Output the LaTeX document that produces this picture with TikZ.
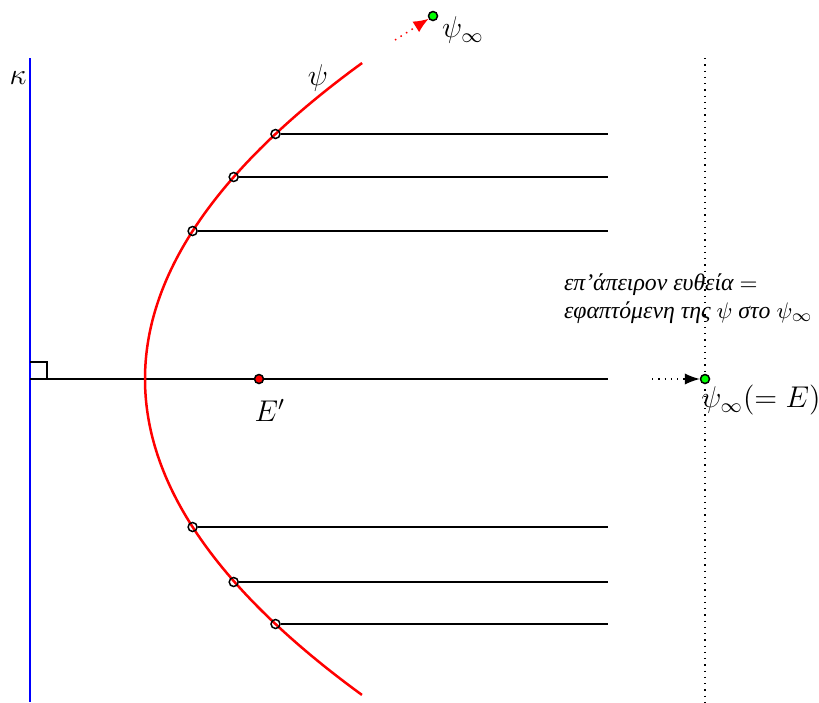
\documentclass[tikz,border=0pt]{standalone}
\usepackage{amssymb,amsmath}
\usepackage{fontspec}
\newfontfamily\grkit{Liberation Serif}
\usetikzlibrary{positioning}
\usetikzlibrary{arrows.meta}

\tikzset{
  pt/.style={circle, draw=black, line width=0.6pt, inner sep=0pt, minimum size=3.6pt},
  curve/.style={red, line width=1pt},
  ray/.style={line width=0.45pt},
  lbl/.style={inner sep=1pt},
}

\begin{document}
\begin{tikzpicture}[x=0.4pt,y=-0.4pt]
  \useasboundingbox (0,0) rectangle (819,702);
  \newcommand{\AxisY}{379}
  \newcommand{\RayEnd}{608}
  \coordinate (KT) at (30,58);
  \coordinate (KB) at (30,702);
  \coordinate (DT) at (705,58);
  \coordinate (DB) at (705,702);
  \coordinate (O) at (30,\AxisY);
  \coordinate (AE) at (\RayEnd,\AxisY);
  \draw[blue, line width=0.6pt] (KT) -- (KB);% directrix
  \draw[dotted, line width=0.5pt] (DT) -- (DB);% line at infinity
  \node[lbl] (kappa) at (18,78) {\large $\kappa$};
  % right angle
  \draw[line width=0.5pt] (30,362) -- (47,362) -- (47,\AxisY);
  \draw[ray] (O) -- (AE);% axis
  % the parabola, focus E', vertex at x=145
  \draw[curve] plot[domain=-3.16:3.16, samples=90, smooth]
    ({145+\x*\x*100/4.6}, {\AxisY+100*\x});
  \node[lbl] (psi) at (318,78) {\large $\psi$};
  % rays parallel to the axis
  \foreach \yy/\xx [count=\i] in {134/275.5, 177/233.7, 231/192.6, 527/192.6, 582/233.7, 624/275.5}{
    \coordinate (L\i) at (\RayEnd,\yy);
    \node[pt] (P\i) at (\xx,\yy) {};
    \draw[ray] (P\i) -- (L\i);
  }
  \node[pt, fill=red] (Ep) at (259,\AxisY) {};
  \node[lbl] (Eplbl) at (270,410) {\large $E'$};
  % point at infinity, top
  \node[pt, fill=green] (Ptop) at (433,16) {};
  \coordinate (St) at (395,40);
  \draw[red, dotted, line width=0.6pt, -{Latex[length=6pt,width=5pt]}] (St) -- (Ptop);
  \node[lbl] (Ptoplbl) at (463,30) {\large $\psi_\infty$};
  % point at infinity, on the axis
  \node[pt, fill=green] (E) at (705,\AxisY) {};
  \coordinate (Se) at (652,\AxisY);
  \draw[dotted, line width=0.5pt, -{Latex[length=6pt,width=4.5pt]}] (Se) -- (E);
  \node[lbl] (Elbl) at (761,400) {\large $\psi_\infty(=E)$};
  \node[lbl, anchor=west, align=left, font=\fontsize{9.5}{11.2}\selectfont\grkit\itshape] (note) at (561,299)
    {επ’άπειρον ευθεία $=$\\
     εφαπτόμενη της $\psi$ στο $\psi_\infty$};
\end{tikzpicture}
\end{document}
